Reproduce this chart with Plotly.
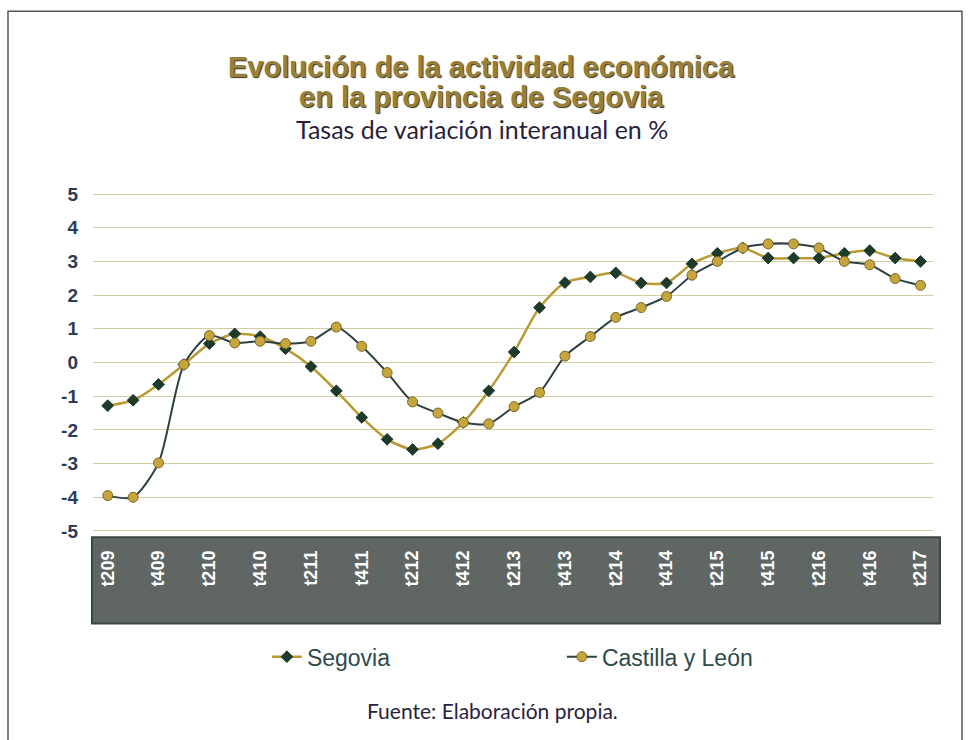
import plotly.graph_objects as go

# trimestres (II09 ... II17), una etiqueta de cada dos
trimestres = ['t209', 't309', 't409', 't110', 't210', 't310', 't410', 't111', 't211',
              't311', 't411', 't112', 't212', 't312', 't412', 't113', 't213', 't313',
              't413', 't114', 't214', 't314', 't414', 't115', 't215', 't315', 't415',
              't116', 't216', 't316', 't416', 't117', 't217']
etiquetas = trimestres[::2]

segovia = [-1.28, -1.12, -0.65, -0.06, 0.56, 0.85, 0.77, 0.41, -0.12, -0.84, -1.63,
           -2.28, -2.58, -2.41, -1.78, -0.84, 0.31, 1.63, 2.37, 2.54, 2.66, 2.36,
           2.36, 2.93, 3.24, 3.40, 3.10, 3.10, 3.10, 3.24, 3.32, 3.10, 3.00]
castilla_leon = [-3.95, -4.00, -2.98, -0.06, 0.80, 0.58, 0.63, 0.56, 0.63, 1.05, 0.48,
                 -0.30, -1.17, -1.50, -1.78, -1.82, -1.31, -0.89, 0.19, 0.77, 1.34, 1.63,
                 1.96, 2.59, 3.00, 3.40, 3.52, 3.52, 3.40, 3.00, 2.90, 2.49, 2.29]
valores_y = [5, 4, 3, 2, 1, 0, -1, -2, -3, -4, -5]
textos_y = ['5', '4', '3', '2', '1', '0', '-1', '-2', '-3', '-4', '-5']

ORO = '#b99a35'
OSCURO = '#2f4040'
x = list(range(len(trimestres)))

fig = go.Figure()
fig.add_trace(go.Scatter(
    x=x, y=segovia, name='Segovia', mode='lines+markers',
    line=dict(color=ORO, width=2.5, shape='spline', smoothing=0.7),
    marker=dict(symbol='diamond', size=9, color='#1d3a2a', line=dict(color='#1d3a2a', width=1))
))
fig.add_trace(go.Scatter(
    x=x, y=castilla_leon, name='Castilla y León', mode='lines+markers',
    line=dict(color=OSCURO, width=2, shape='spline', smoothing=0.7),
    marker=dict(symbol='circle', size=10, color='#c6a53c', line=dict(color='#7a6a2a', width=1))
))

fig.update_layout(
    width=973, height=740,
    margin=dict(l=93, r=40, t=193, b=208),
    paper_bgcolor='white', plot_bgcolor='white',
    showlegend=True,
    legend=dict(orientation='h', x=0.207, y=-0.368, xanchor='left', yanchor='middle',
                entrywidth=250, entrywidthmode='pixels',
                font=dict(family='Liberation Sans, Arial', size=23, color='#2f4a4a')),
    font=dict(family='Liberation Sans, Arial'),
)

fig.update_xaxes(
    range=[-0.58, 32.49], tickvals=x[::2], ticktext=etiquetas, tickangle=-90,
    showgrid=False, zeroline=False, showline=False, ticks='', ticklabelstandoff=14,
    tickfont=dict(family='Liberation Sans, Arial', size=18, color='white', weight='bold'),
)
fig.update_yaxes(
    range=[-5.03, 5.03], tickvals=valores_y, ticktext=textos_y, showgrid=True,
    gridcolor='#d2cea2', gridwidth=1,
    zeroline=False, showline=False, ticks='', ticklabelstandoff=14,
    tickfont=dict(family='Liberation Sans, Arial', size=19, color='#2d3b58', weight='bold'),
)

# banda gris de las etiquetas del eje x
fig.add_shape(type='rect', xref='paper', yref='paper', x0=-0.0012, x1=1.0083,
              y0=-0.0157, y1=-0.270, fillcolor='#5f6664', line=dict(color='#3c4745', width=2),
              layer='below')
# marco exterior
fig.add_shape(type='rect', xref='paper', yref='paper', x0=-0.1012, x1=1.0345,
              y0=-0.75, y1=1.536, line=dict(color='#555555', width=1.5))

titulo = dict(family='Liberation Sans, Arial', size=29, color='#96803a', weight='bold',
              shadow='1px 1px 1px #3a3320')
fig.add_annotation(text='Evolución de la actividad económica', x=0.4625, y=1.372,
                   xref='paper', yref='paper', showarrow=False, font=titulo, yanchor='middle')
fig.add_annotation(text='en la provincia de Segovia', x=0.4625, y=1.283,
                   xref='paper', yref='paper', showarrow=False, font=titulo, yanchor='middle')
fig.add_annotation(text='Tasas de variación interanual en %', x=0.4625, y=1.188,
                   xref='paper', yref='paper', showarrow=False, yanchor='middle',
                   font=dict(family='Lato', size=25, color='#2a1f3d'))
fig.add_annotation(text='Fuente: Elaboración propia.', x=0.475, y=-0.527,
                   xref='paper', yref='paper', showarrow=False, yanchor='middle',
                   font=dict(family='Lato', size=21, color='#2a1f3d'))

fig.write_html('out.html', config={'displayModeBar': False},
               post_script="document.body.style.margin='0';")
